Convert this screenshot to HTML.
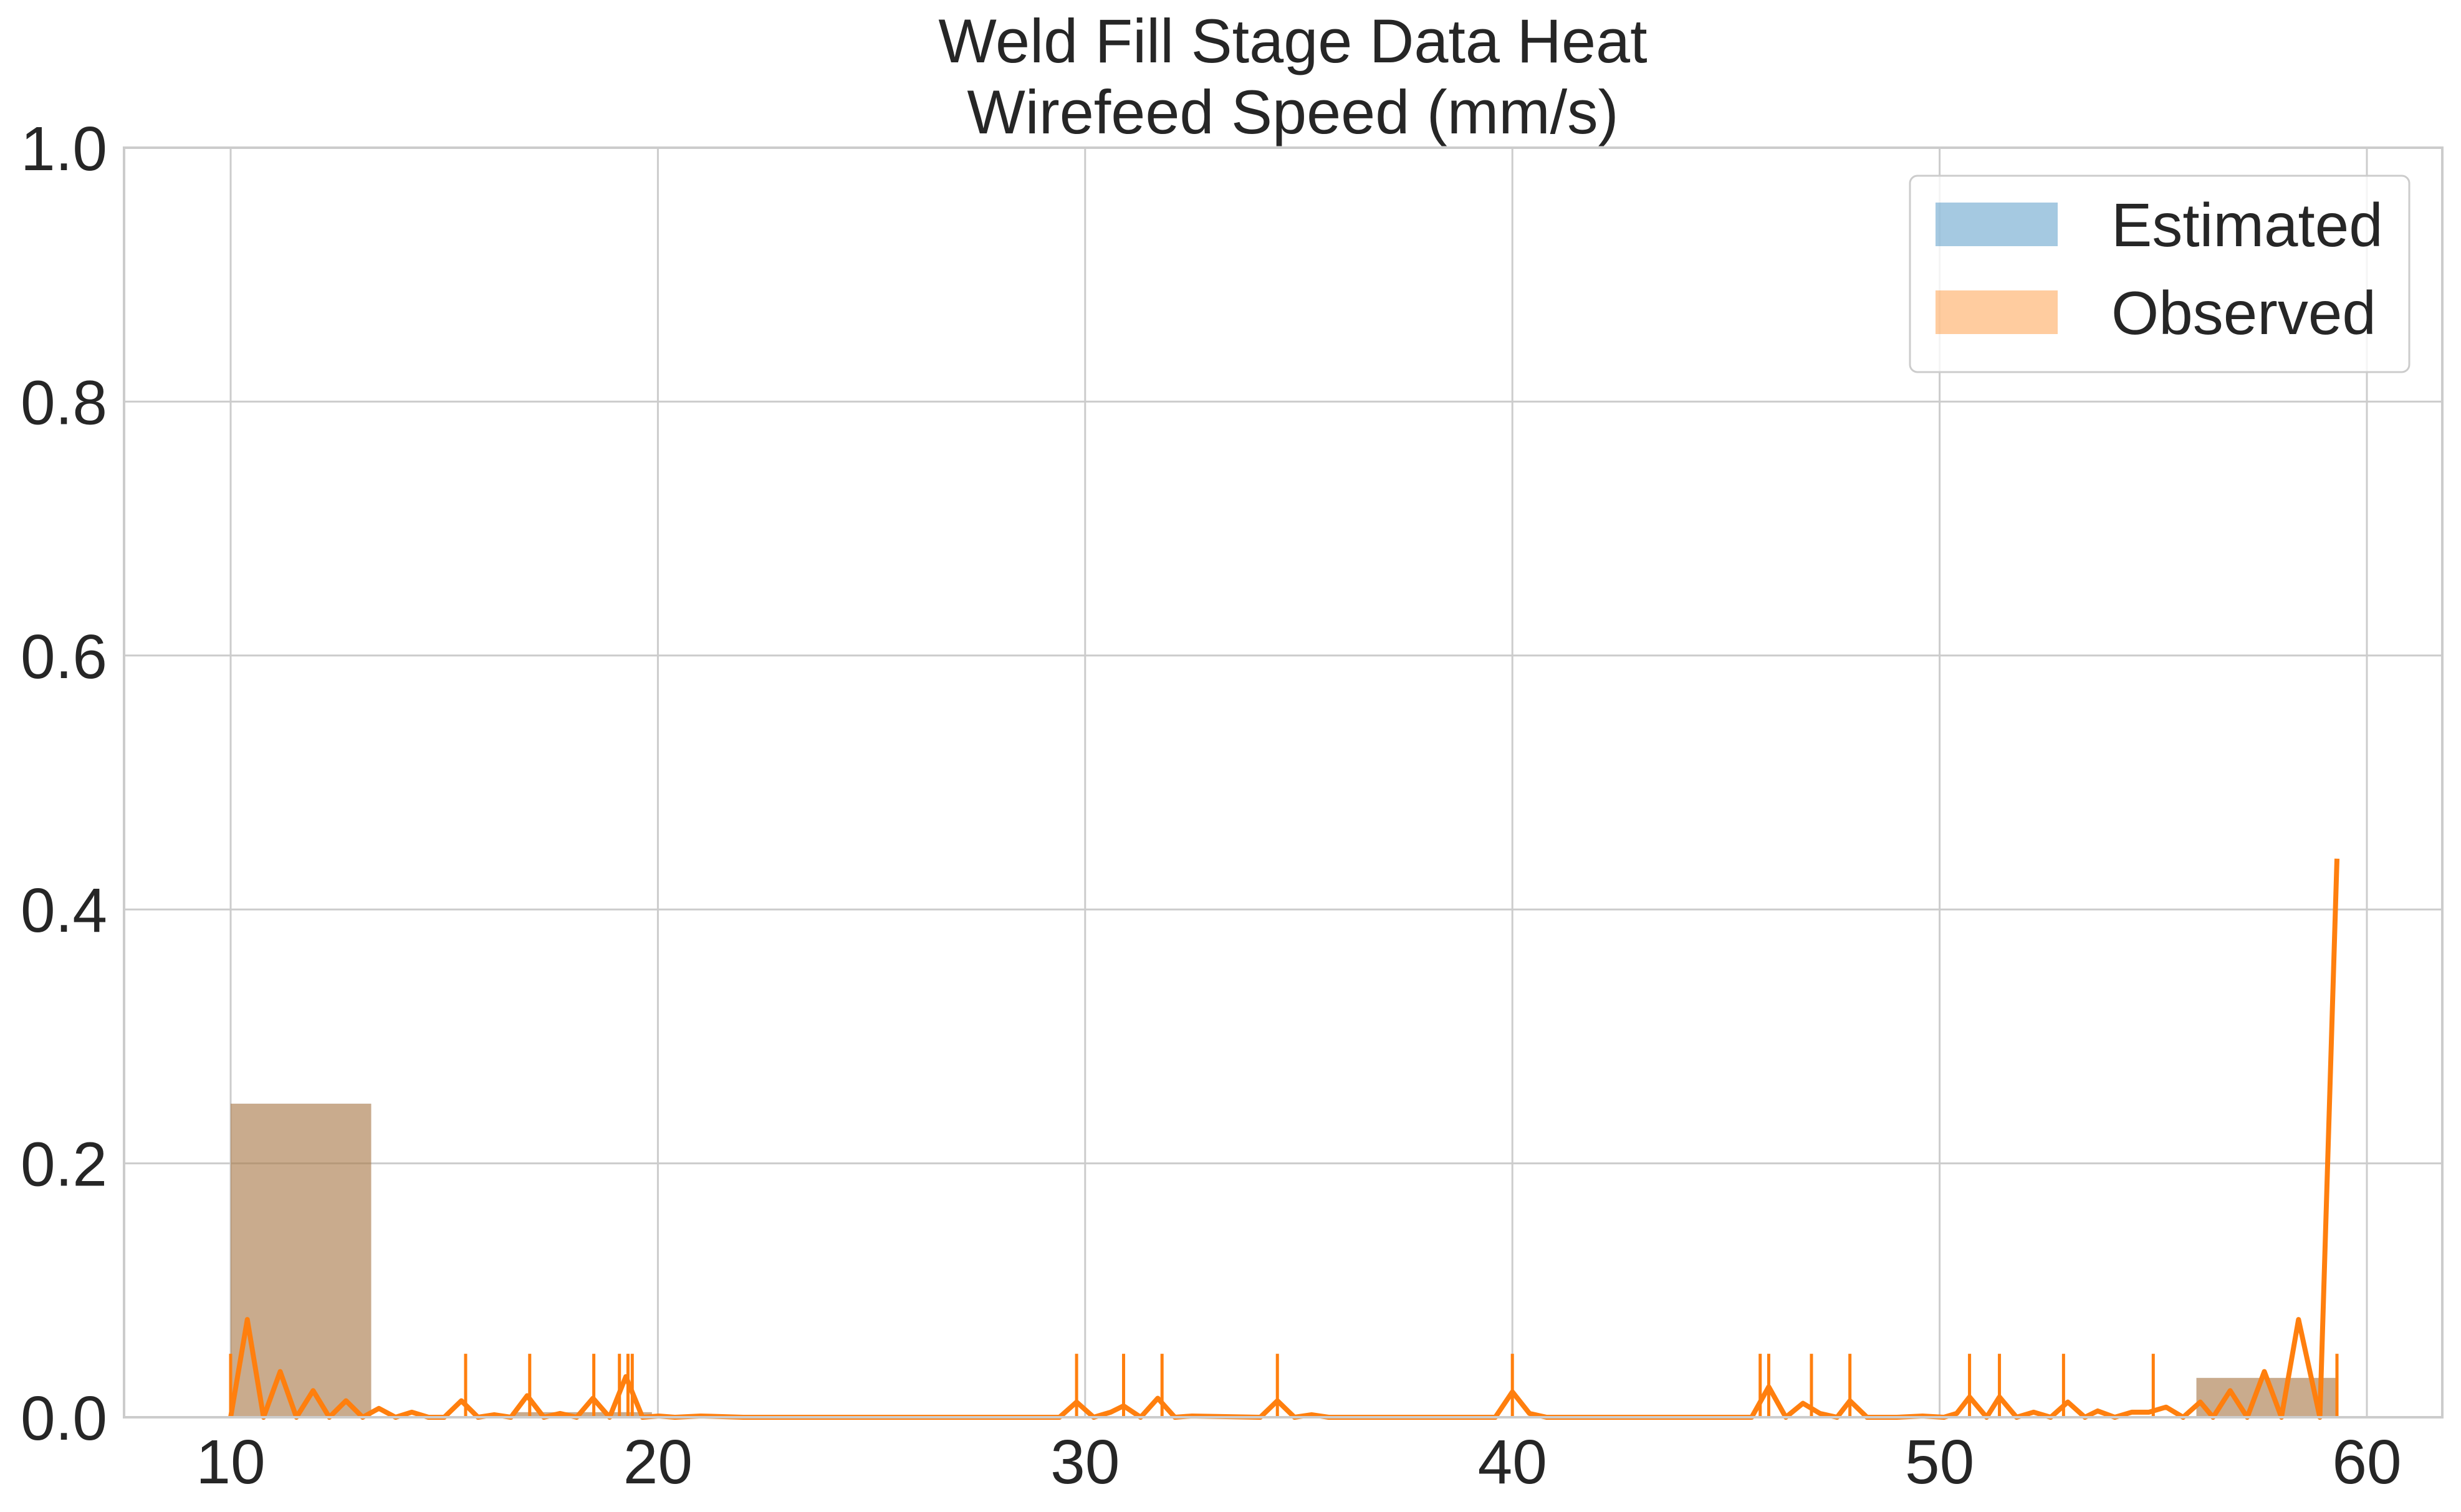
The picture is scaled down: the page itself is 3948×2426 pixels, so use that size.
<!DOCTYPE html>
<html><head><meta charset="utf-8"><style>
html,body{margin:0;padding:0;background:#fff;}
svg{display:block;font-family:"Liberation Sans",Arial,sans-serif;}
</style></head><body>
<svg id="chart" width="3948" height="2426" viewBox="0 0 3948 2426">
<text x="2074" y="100" font-size="99" text-anchor="middle" fill="#262626">Weld Fill Stage Data Heat</text>
<text x="2074" y="214" font-size="99" text-anchor="middle" fill="#262626">Wirefeed Speed (mm/s)</text>
<g id="grid"></g>
<g id="bars"></g>
<g id="rug"></g>
<g id="line"></g>
<g id="axes"></g>
<g>
<rect x="3064" y="282" width="801" height="315" rx="12" fill="#fff" fill-opacity="0.8" stroke="#cccccc" stroke-width="3"/>
<rect x="3105" y="325" width="196" height="70" fill="#1f77b4" fill-opacity="0.4"/>
<text x="3387" y="395" font-size="98" fill="#262626">Estimated</text>
<rect x="3105" y="466" width="196" height="70" fill="#ff7f0e" fill-opacity="0.4"/>
<text x="3387" y="536" font-size="98" fill="#262626">Observed</text>
</g>
</svg>
<script>
const xTicks=[10,20,30,40,50,60];
const yTicks=[0,0.2,0.4,0.6,0.8,1.0];
const yTickLabels=["0.0","0.2","0.4","0.6","0.8","1.0"];
const binStarts=[10,13.29,16.57,19.86,23.15,26.43,29.72,33.01,36.29,39.58,42.87,46.15,49.44,52.73,56.01];
const binWidth=3.29;
const estHeights=[0.247,0,0.004,0,0,0,0,0,0,0,0,0.001,0,0,0.031];
const obsHeights=[0.247,0,0.004,0,0,0,0,0,0,0,0,0.001,0,0,0.031];
const rugX=[10,15.5,17,18.5,19.1,19.3,19.4,29.8,30.9,31.8,34.5,40,45.8,46,47,47.9,50.7,51.4,52.9,55,59.3];
const rugHeight=0.05;
const lineX=[10,10.39,10.77,11.16,11.54,11.93,12.31,12.7,13.09,13.47,13.86,14.24,14.63,15.0,15.4,15.79,16.17,16.56,16.94,17.33,17.71,18.1,18.48,18.87,19.25,19.64,20.02,20.4,21,22,29.4,29.8,30.2,30.6,30.9,31.3,31.7,32.1,32.5,34.1,34.5,34.9,35.3,35.7,39.6,40,40.4,40.8,45.6,46,46.4,46.8,47.2,47.6,47.9,48.3,49,49.6,50.1,50.4,50.7,51.1,51.4,51.8,52.2,52.6,53,53.4,53.7,54.1,54.5,54.9,55.3,55.7,56.1,56.4,56.8,57.2,57.6,58,58.4,58.9,59.3];
const lineY=[0,0.077,0,0.036,0,0.021,0,0.013,0,0.007,0,0.004,0,0,0.013,0,0.002,0,0.017,0,0.003,0,0.015,0,0.032,0,0.001,0,0.001,0,0,0.012,0,0.004,0.009,0,0.015,0,0.001,0,0.013,0,0.002,0,0,0.020,0.003,0,0,0.024,0,0.011,0.003,0,0.013,0,0,0.001,0,0.003,0.016,0,0.016,0,0.004,0,0.012,0,0.005,0,0.004,0.004,0.008,0,0.012,0,0.021,0,0.036,0,0.077,0,0.44];

const L=199,R=3918,T=237,B=2274;
const xs=v=>370+(v-10)*(3797-370)/50;
const ys=v=>B-v*(B-T);
const NS="http://www.w3.org/2000/svg";
function mk(tag,parent,attrs){const e=document.createElementNS(NS,tag);for(const k in attrs)e.setAttribute(k,attrs[k]);parent.appendChild(e);return e;}
const grid=document.getElementById('grid'),bars=document.getElementById('bars'),rug=document.getElementById('rug'),line=document.getElementById('line'),axes=document.getElementById('axes');
xTicks.forEach(t=>{
  const g=mk('line',grid,{x1:xs(t),x2:xs(t),y1:T,y2:B,stroke:'#cccccc','stroke-width':3});
  
  
  const tx=mk('text',axes,{x:xs(t),y:2380,'font-size':100,'text-anchor':'middle',fill:'#262626'});
  tx.textContent=t;
  
  
});
yTicks.forEach((t,i)=>{
  const g=mk('line',grid,{x1:L,x2:R,y1:ys(t),y2:ys(t),stroke:'#cccccc','stroke-width':3});
  
  
  const tx=mk('text',axes,{x:172,y:ys(t)+36,'font-size':100,'text-anchor':'end',fill:'#262626'});
  tx.textContent=yTickLabels[i];
  
  
});
const frame=mk('rect',axes,{x:L,y:T,width:R-L,height:B-T,fill:'none',stroke:'#cccccc','stroke-width':4});


binStarts.forEach((s,i)=>{
  if(estHeights[i]>0){
    const b=mk('rect',bars,{x:xs(s),y:ys(estHeights[i]),width:xs(s+binWidth)-xs(s),height:B-ys(estHeights[i]),fill:'#1f77b4','fill-opacity':0.4});
    
    
  }
  if(obsHeights[i]>0){
    const b=mk('rect',bars,{x:xs(s),y:ys(obsHeights[i]),width:xs(s+binWidth)-xs(s),height:B-ys(obsHeights[i]),fill:'#ff7f0e','fill-opacity':0.4});
    
    
  }
});
rugX.forEach(v=>{
  const r=mk('line',rug,{x1:xs(v),x2:xs(v),y1:B,y2:ys(rugHeight),stroke:'#ff7f0e','stroke-width':5});
  
  
});
const p=mk('polyline',line,{points:lineX.map((x,i)=>xs(x)+','+ys(lineY[i])).join(' '),fill:'none',stroke:'#ff7f0e','stroke-width':8,'stroke-linejoin':'round'});


</script>
</body></html>
